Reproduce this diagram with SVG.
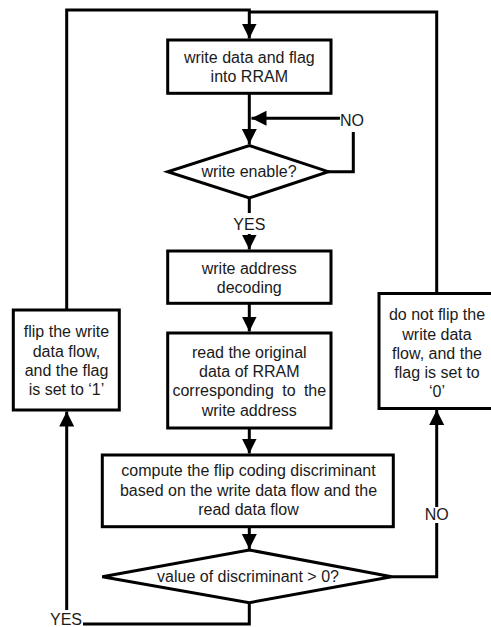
<svg xmlns="http://www.w3.org/2000/svg" width="491" height="627" viewBox="0 0 491 627">
<style>
.box{fill:#fff;stroke:#000;stroke-width:3}
.ln{fill:none;stroke:#000;stroke-width:3;stroke-linejoin:miter}
text{font-family:"Liberation Sans",Arial,sans-serif;font-size:16px;fill:#1a1a1a;text-anchor:middle}
</style>
<defs>
<marker id="ah" markerUnits="userSpaceOnUse" markerWidth="16" markerHeight="16" viewBox="0 0 16 16" refX="15" refY="8" orient="auto">
<path d="M0,0.5 L15,8 L0,15.5 Z" fill="#000"/>
</marker>
</defs>
<rect width="491" height="627" fill="#fff"/>
<g id="connectors">
<path class="ln" d="M66.7,310 V10 H249.3 V38.5" marker-end="url(#ah)"/>
<path class="ln" d="M436.7,292 V12 H249.3"/>
<path class="ln" d="M249.3,93 V144" marker-end="url(#ah)"/>
<path class="ln" d="M328,171.7 H353.3 V132"/>
<path class="ln" d="M340,118.3 H251.5" marker-end="url(#ah)"/>
<path class="ln" d="M249.3,198 V213"/>
<path class="ln" d="M249.3,234 V249.5" marker-end="url(#ah)"/>
<path class="ln" d="M249.3,303 V331.5" marker-end="url(#ah)"/>
<path class="ln" d="M249.3,428 V453.5" marker-end="url(#ah)"/>
<path class="ln" d="M249.3,526.5 V549" marker-end="url(#ah)"/>
<path class="ln" d="M391.7,576.7 H436.7 V523"/>
<path class="ln" d="M436.7,507 V410" marker-end="url(#ah)"/>
<path class="ln" d="M249.3,602.7 V624 H83"/>
<path class="ln" d="M66.7,610 V411.5" marker-end="url(#ah)"/>
<text x="352" y="126">NO</text>
<text x="249.3" y="230">YES</text>
<text x="436.7" y="520">NO</text>
<text x="66" y="625">YES</text>
</g>
<g id="n1">
<rect class="box" x="167.7" y="40" width="163.3" height="53.3"/>
<text x="249.3" y="63">write data and flag</text>
<text x="249.3" y="82">into RRAM</text>
</g>
<g id="n2">
<polygon class="box" points="249.3,145.5 328.3,171.7 249.3,198 167.7,171.7"/>
<text x="249" y="177">write enable?</text>
</g>
<g id="n3">
<rect class="box" x="167.7" y="251" width="163.3" height="52.3"/>
<text x="249.3" y="274">write address</text>
<text x="249.3" y="293">decoding</text>
</g>
<g id="n4">
<rect class="box" x="167.7" y="333" width="163.3" height="95"/>
<text x="249.3" y="357.5">read the original</text>
<text x="249.3" y="377">data of RRAM</text>
<text x="249.3" y="396" word-spacing="3.9">corresponding to the</text>
<text x="249.3" y="415.5">write address</text>
</g>
<g id="n5">
<rect class="box" x="102.3" y="455" width="291" height="71.7"/>
<text x="248.5" y="476">compute the flip coding discriminant</text>
<text x="248.5" y="495.5">based on the write data flow and the</text>
<text x="248.5" y="515">read data flow</text>
</g>
<g id="n6">
<polygon class="box" points="249.3,550 391.7,576.7 249.3,602.7 102.3,576.7"/>
<text x="248" y="582">value of discriminant &gt; 0?</text>
</g>
<g id="n7">
<rect class="box" x="13.3" y="310" width="106" height="100"/>
<text x="66.5" y="337">flip the write</text>
<text x="66.5" y="356.5">data flow,</text>
<text x="66.5" y="376">and the flag</text>
<text x="66.5" y="395">is set to ‘1’</text>
</g>
<g id="n8">
<rect class="box" x="379" y="293.5" width="120" height="115"/>
<text x="437" y="320">do not flip the</text>
<text x="437" y="339.5">write data</text>
<text x="437" y="359">flow, and the</text>
<text x="437" y="378">flag is set to</text>
<text x="437" y="397">‘0’</text>
</g>
</svg>
